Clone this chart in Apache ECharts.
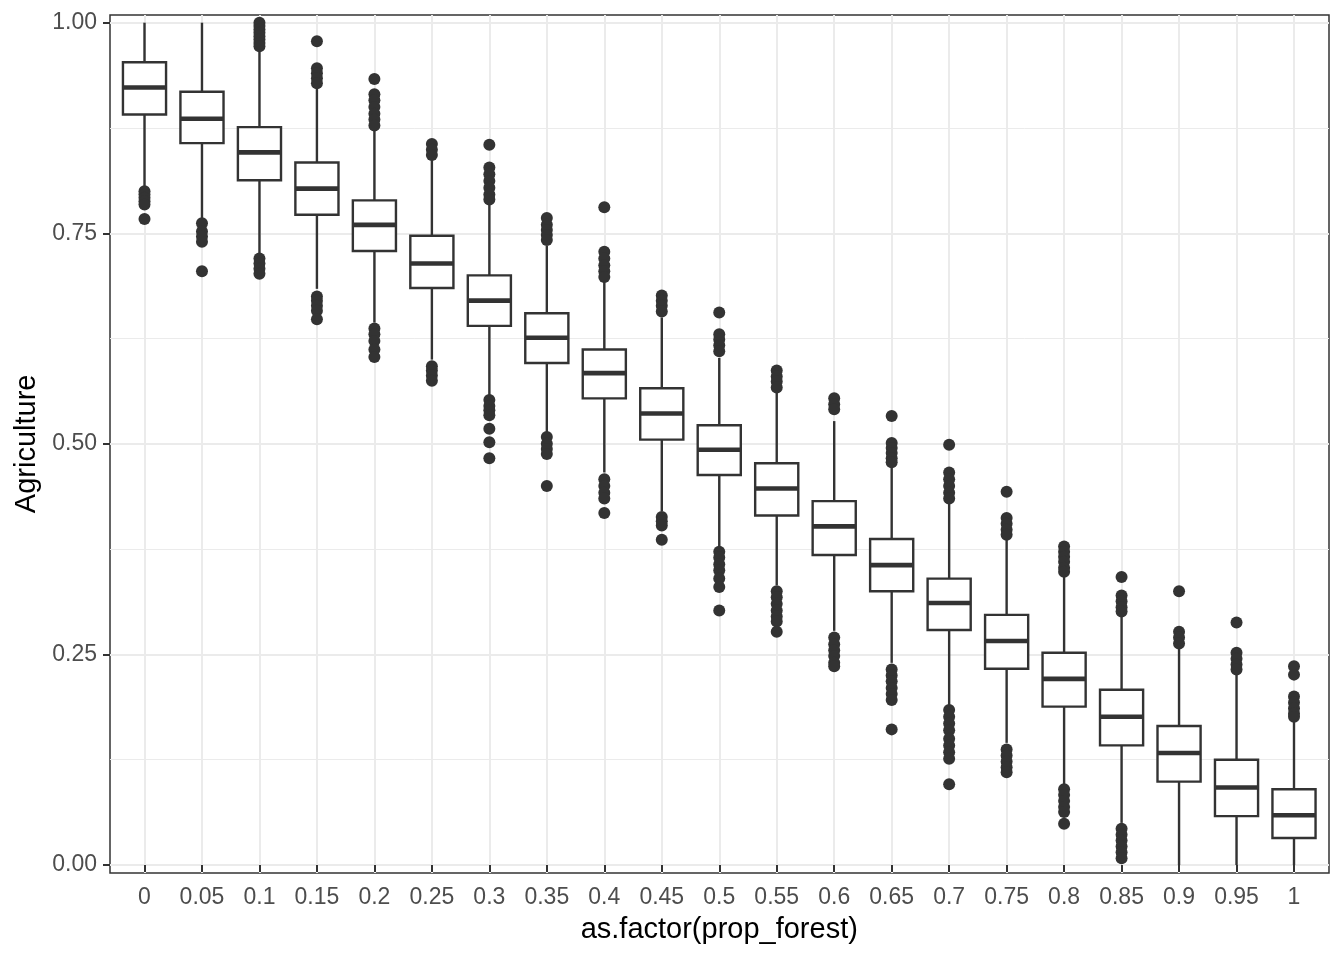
<!DOCTYPE html>
<html>
<head>
<meta charset="utf-8">
<script src="https://cdn.jsdelivr.net/npm/echarts@6/dist/echarts.min.js"></script>
<style>
html,body{margin:0;padding:0;background:#fff;}
#chart{width:1344px;height:960px;}
</style>
</head>
<body>
<div id="chart"></div>
<script>
// ---- data ----
var categories = ['0','0.05','0.1','0.15','0.2','0.25','0.3','0.35','0.4','0.45','0.5','0.55','0.6','0.65','0.7','0.75','0.8','0.85','0.9','0.95','1'];
var whiskerLow  = [0.806,0.768,0.726,0.684,0.644,0.600,0.558,0.513,0.466,0.420,0.378,0.332,0.278,0.240,0.190,0.145,0.095,0.050,0.000,0.000,0.000];
var q1Values    = [0.891,0.857,0.813,0.772,0.729,0.685,0.640,0.596,0.554,0.505,0.463,0.415,0.368,0.325,0.279,0.233,0.188,0.142,0.099,0.058,0.032];
var medians     = [0.923,0.886,0.846,0.803,0.760,0.714,0.670,0.626,0.584,0.536,0.493,0.447,0.402,0.356,0.311,0.266,0.221,0.176,0.133,0.092,0.059];
var q3Values    = [0.953,0.918,0.876,0.834,0.789,0.747,0.700,0.655,0.612,0.566,0.522,0.477,0.432,0.387,0.340,0.297,0.252,0.208,0.165,0.125,0.090];
var whiskerHigh = [1.000,1.000,0.966,0.922,0.874,0.838,0.787,0.735,0.696,0.650,0.602,0.562,0.527,0.475,0.430,0.390,0.345,0.298,0.258,0.228,0.172];
var outliers = [
  [0.800,0.796,0.792,0.788,0.784,0.767],
  [0.762,0.752,0.746,0.740,0.705],
  [1.000,0.996,0.992,0.988,0.984,0.980,0.976,0.972,0.720,0.714,0.708,0.702],
  [0.978,0.946,0.940,0.934,0.928,0.675,0.670,0.664,0.658,0.648],
  [0.933,0.915,0.908,0.900,0.892,0.885,0.878,0.637,0.630,0.622,0.612,0.603],
  [0.856,0.849,0.843,0.592,0.587,0.581,0.575],
  [0.855,0.828,0.820,0.812,0.804,0.796,0.790,0.552,0.545,0.540,0.534,0.518,0.502,0.483],
  [0.768,0.760,0.754,0.748,0.742,0.508,0.500,0.494,0.488,0.450],
  [0.781,0.728,0.720,0.712,0.705,0.698,0.458,0.450,0.442,0.435,0.418],
  [0.676,0.670,0.664,0.657,0.413,0.408,0.403,0.386],
  [0.656,0.630,0.624,0.617,0.610,0.372,0.365,0.357,0.350,0.340,0.330,0.302],
  [0.587,0.580,0.574,0.567,0.325,0.318,0.310,0.302,0.295,0.289,0.277],
  [0.554,0.547,0.541,0.270,0.262,0.255,0.248,0.240,0.236],
  [0.533,0.501,0.495,0.489,0.483,0.478,0.232,0.225,0.218,0.210,0.203,0.196,0.161],
  [0.499,0.466,0.458,0.450,0.442,0.435,0.184,0.176,0.168,0.160,0.150,0.142,0.134,0.126,0.096],
  [0.443,0.412,0.405,0.398,0.392,0.137,0.130,0.123,0.116,0.110],
  [0.378,0.372,0.366,0.360,0.353,0.348,0.090,0.083,0.076,0.069,0.063,0.049],
  [0.342,0.320,0.313,0.306,0.301,0.043,0.036,0.029,0.022,0.015,0.008],
  [0.325,0.277,0.270,0.263],
  [0.288,0.252,0.245,0.238,0.232],
  [0.236,0.226,0.200,0.193,0.186,0.180,0.176]
];
var yTickValues = [0, 0.25, 0.5, 0.75, 1];

// ---- build ----
var boxData = categories.map(function (c, i) {
  return [i, whiskerLow[i], q1Values[i], medians[i], q3Values[i], whiskerHigh[i]];
});
var outlierData = [];
outliers.forEach(function (arr, i) { arr.forEach(function (v) { outlierData.push([i, v]); }); });

var FONT = '"Liberation Sans", Arial, Helvetica, sans-serif';
var INK = '#333333';
var GRID = '#EBEBEB';

var chart = echarts.init(document.getElementById('chart'), null, {renderer: 'canvas'});
chart.setOption({
  animation: false,
  backgroundColor: '#ffffff',
  textStyle: {fontFamily: FONT},
  grid: [
    // panel frame
    {left: 110, top: 15, width: 1219, height: 858, show: true, borderColor: INK, borderWidth: 1.5, backgroundColor: 'transparent', containLabel: false},
    // y scale (0..1)
    {left: 110, top: 22.7, width: 1219, height: 842.3, containLabel: false},
    // category positions
    {left: 144.5, top: 15, width: 1149.5, height: 858, containLabel: false}
  ],
  xAxis: [
    {gridIndex: 0, type: 'value', show: false, min: 0, max: 1},
    {gridIndex: 1, type: 'value', show: false, min: 0, max: 1},
    {gridIndex: 2, type: 'category', data: categories, boundaryGap: false,
     axisLine: {show: false},
     axisTick: {show: true, interval: 0, length: 7, lineStyle: {color: INK, width: 2}},
     axisLabel: {interval: 0, margin: 13, fontSize: 23, color: '#4D4D4D', fontFamily: FONT},
     splitLine: {show: true, interval: 0, lineStyle: {color: GRID, width: 2}},
     name: 'as.factor(prop_forest)', nameLocation: 'middle', nameGap: 42,
     nameTextStyle: {fontSize: 29, color: '#000000', fontFamily: FONT}}
  ],
  yAxis: [
    {gridIndex: 0, type: 'value', show: false, min: 0, max: 1},
    {gridIndex: 1, type: 'value', min: yTickValues[0], max: yTickValues[yTickValues.length - 1], interval: 0.25,
     axisLine: {show: false},
     axisTick: {show: true, length: 7, lineStyle: {color: INK, width: 2}},
     axisLabel: {margin: 13, fontSize: 23, color: '#4D4D4D', fontFamily: FONT,
                 formatter: function (v) { return v.toFixed(2); }},
     splitLine: {show: true, lineStyle: {color: GRID, width: 2}},
     minorTick: {show: false, splitNumber: 2},
     minorSplitLine: {show: true, lineStyle: {color: GRID, width: 1}},
     name: 'Agriculture', nameLocation: 'middle', nameGap: 66,
     nameTextStyle: {fontSize: 29, color: '#000000', fontFamily: FONT}},
    {gridIndex: 2, type: 'value', show: false, min: -0.0095, max: 1.0091}
  ],
  series: [
    {
      type: 'custom',
      xAxisIndex: 2, yAxisIndex: 2,
      data: boxData,
      encode: {x: 0, y: [1, 2, 3, 4, 5]},
      z: 3,
      renderItem: function (params, api) {
        var x = api.value(0);
        var lo = api.coord([x, api.value(1)]);
        var q1 = api.coord([x, api.value(2)]);
        var md = api.coord([x, api.value(3)]);
        var q3 = api.coord([x, api.value(4)]);
        var hi = api.coord([x, api.value(5)]);
        var half = api.size([1, 0])[0] * 0.375;
        var ls = {stroke: INK, lineWidth: 2.4, fill: null};
        return {
          type: 'group',
          children: [
            {type: 'line', shape: {x1: hi[0], y1: hi[1], x2: q3[0], y2: q3[1]}, style: ls},
            {type: 'line', shape: {x1: q1[0], y1: q1[1], x2: lo[0], y2: lo[1]}, style: ls},
            {type: 'rect', shape: {x: q3[0] - half, y: q3[1], width: half * 2, height: q1[1] - q3[1]},
             style: {stroke: INK, lineWidth: 2.4, fill: '#ffffff'}},
            {type: 'line', shape: {x1: md[0] - half, y1: md[1], x2: md[0] + half, y2: md[1]},
             style: {stroke: INK, lineWidth: 4.6, fill: null}}
          ]
        };
      }
    },
    {
      type: 'scatter',
      xAxisIndex: 2, yAxisIndex: 2,
      data: outlierData,
      symbol: 'circle',
      symbolSize: 12,
      itemStyle: {color: INK, opacity: 1},
      z: 4,
      silent: true
    }
  ]
});
</script>
</body>
</html>
